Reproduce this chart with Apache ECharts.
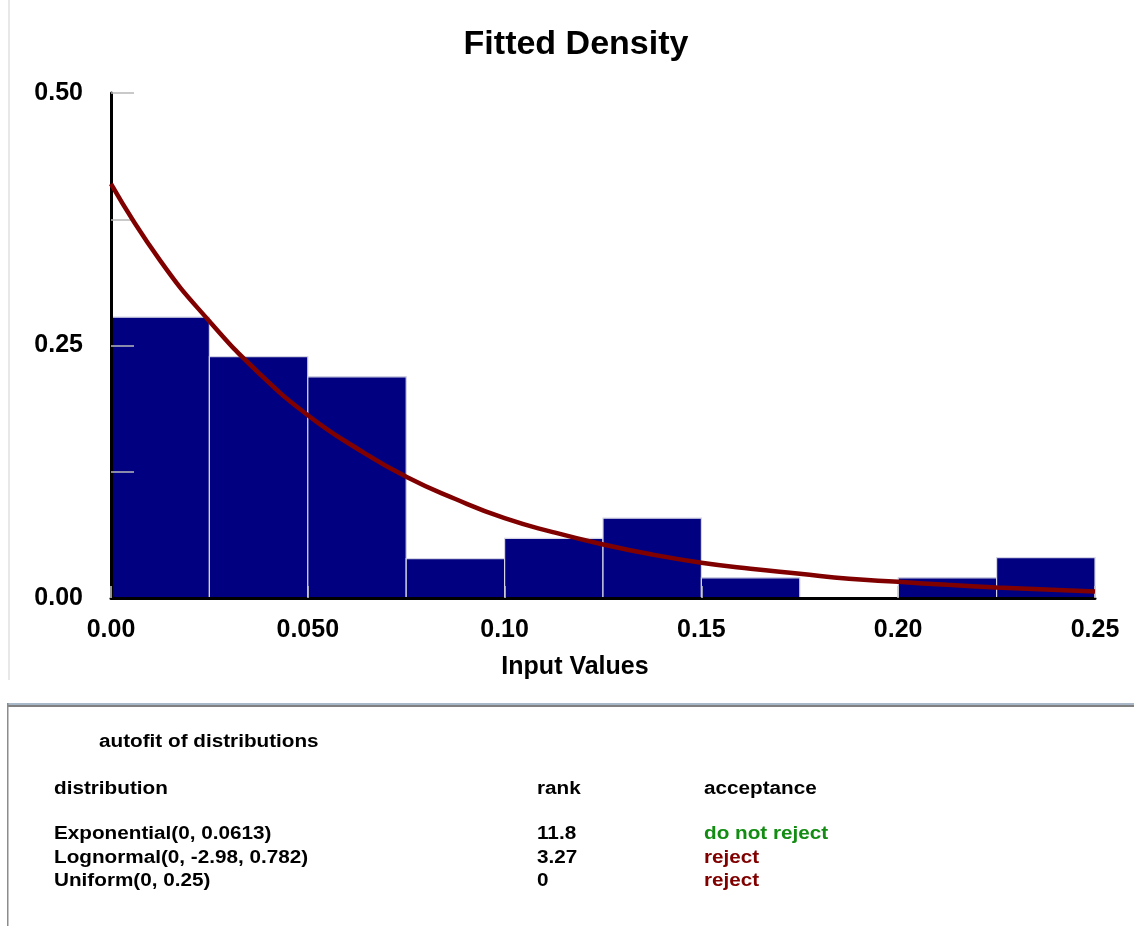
<!DOCTYPE html>
<html>
<head>
<meta charset="utf-8">
<script src="https://cdn.jsdelivr.net/npm/echarts@6/dist/echarts.min.js"></script>
<style>
  html, body { margin: 0; padding: 0; background: #ffffff; }
  #chart { width: 1134px; height: 926px; }
</style>
</head>
<body>
<div id="chart"></div>
<script>
// ---- data ----
const binEdges = [0, 0.025, 0.05, 0.075, 0.1, 0.125, 0.15, 0.175, 0.2, 0.225, 0.25];
const binValues = [0.278, 0.239, 0.219, 0.039, 0.059, 0.079, 0.020, 0, 0.020, 0.040];
const curveX = [0, 0.0125, 0.025, 0.0375, 0.05, 0.0625, 0.075, 0.0875, 0.1, 0.1125, 0.125,
                0.1375, 0.15, 0.1625, 0.175, 0.1875, 0.2, 0.2125, 0.225, 0.2375, 0.25];
const curveY = [0.410, 0.334, 0.274, 0.223, 0.181, 0.148, 0.120, 0.098, 0.079, 0.065, 0.053,
                0.043, 0.035, 0.029, 0.024, 0.019, 0.016, 0.013, 0.0105, 0.0085, 0.0065];
const xTickLabels = ['0.00', '0.050', '0.10', '0.15', '0.20', '0.25'];
const yTickLabels = ['0.00', '', '0.25', '', '0.50'];

const tableTitle = 'autofit of distributions';
const tableHeaders = ['distribution', 'rank', 'acceptance'];
const distNames = ['Exponential(0, 0.0613)', 'Lognormal(0, -2.98, 0.782)', 'Uniform(0, 0.25)'];
const distRanks = ['11.8', '3.27', '0'];
const distAcceptance = ['do not reject', 'reject', 'reject'];

// ---- build ----
const barData = binValues.map((v, i) => [binEdges[i], binEdges[i + 1], v]);
const lineData = curveX.map((x, i) => [x, curveY[i]]);

const FONT = '"Liberation Sans", Arial, Helvetica, sans-serif';
const SX = 1.15;
function txt(x, y, s, color) {
  return {
    type: 'text', x: x, y: y, scaleX: SX, z: 200,
    style: { text: s, fill: color || '#000', verticalAlign: 'middle', align: 'left',
      font: 'bold 18px ' + FONT }
  };
}
const colX = [54, 537, 704];
const rowY = [833.6, 858.3, 881];
const accColors = ['#138c13', '#800000', '#800000'];
const graphics = [
  { type: 'rect', shape: { x: 8, y: 0, width: 2, height: 680 }, style: { fill: '#e8e8e8' }, z: 150 },
  { type: 'rect', shape: { x: 0, y: 680, width: 1134, height: 23 }, style: { fill: '#ffffff' }, z: 150 },
  { type: 'rect', shape: { x: 7, y: 703, width: 1127, height: 2 }, style: { fill: '#a9b9c9' }, z: 150 },
  { type: 'rect', shape: { x: 7, y: 705, width: 1127, height: 2 }, style: { fill: '#808080' }, z: 150 },
  { type: 'rect', shape: { x: 7, y: 703, width: 1.5, height: 223 }, style: { fill: '#8c8c8c' }, z: 150 },
  txt(99, 742, tableTitle),
  txt(colX[0], 788.6, tableHeaders[0]),
  txt(colX[1], 788.6, tableHeaders[1]),
  txt(colX[2], 788.6, tableHeaders[2])
];
distNames.forEach((d, i) => {
  graphics.push(txt(colX[0], rowY[i], d));
  graphics.push(txt(colX[1], rowY[i], distRanks[i]));
  graphics.push(txt(colX[2], rowY[i], distAcceptance[i], accColors[i]));
});

const chart = echarts.init(document.getElementById('chart'), null, { renderer: 'canvas' });
chart.setOption({
  backgroundColor: '#ffffff',
  animation: false,
  title: {
    text: 'Fitted Density',
    left: 571, top: 23, textAlign: 'center',
    textStyle: { fontFamily: FONT, fontWeight: 'bold', fontSize: 34, color: '#000' }
  },
  grid: { left: 111, right: 39, top: 93, bottom: 328, containLabel: false },
  xAxis: {
    type: 'value', min: 0, max: 0.25, interval: 0.05,
    name: 'Input Values', nameLocation: 'middle', nameGap: 57,
    nameTextStyle: { fontFamily: FONT, fontWeight: 'bold', fontSize: 25, color: '#000', padding: [0, 56, 0, 0] },
    axisLine: { show: true, lineStyle: { color: '#000', width: 3 } },
    axisTick: { show: true, inside: true, length: 12, lineStyle: { color: '#c8c8c8', width: 1.5 } },
    axisLabel: {
      margin: 20, fontFamily: FONT, fontWeight: 'bold', fontSize: 25, color: '#000',
      formatter: (v, i) => xTickLabels[i]
    },
    splitLine: { show: false },
    z: 11
  },
  yAxis: {
    type: 'value', min: 0, max: 0.5, interval: 0.125,
    axisLine: { show: true, lineStyle: { color: '#000', width: 3 } },
    axisTick: { show: true, inside: true, length: 23, lineStyle: { color: '#b8b8b8', width: 1.5 } },
    axisLabel: {
      margin: 28, fontFamily: FONT, fontWeight: 'bold', fontSize: 25, color: '#000',
      formatter: (v, i) => yTickLabels[i]
    },
    splitLine: { show: false },
    z: 10
  },
  series: [
    {
      type: 'custom',
      z: 2,
      renderItem: function (params, api) {
        const h = api.value(2);
        if (!(h > 0)) return null;
        const p0 = api.coord([api.value(0), h]);
        const p1 = api.coord([api.value(1), 0]);
        return {
          type: 'rect',
          shape: { x: p0[0], y: p0[1], width: p1[0] - p0[0], height: p1[1] - p0[1] },
          style: { fill: '#000080', stroke: '#d4d4e4', lineWidth: 1.2 }
        };
      },
      encode: { x: [0, 1], y: 2 },
      data: barData
    },
    {
      type: 'line',
      z: 20,
      smooth: true,
      showSymbol: false,
      lineStyle: { color: '#800000', width: 4.5 },
      data: lineData
    }
  ],
  graphic: graphics
});
</script>
</body>
</html>
